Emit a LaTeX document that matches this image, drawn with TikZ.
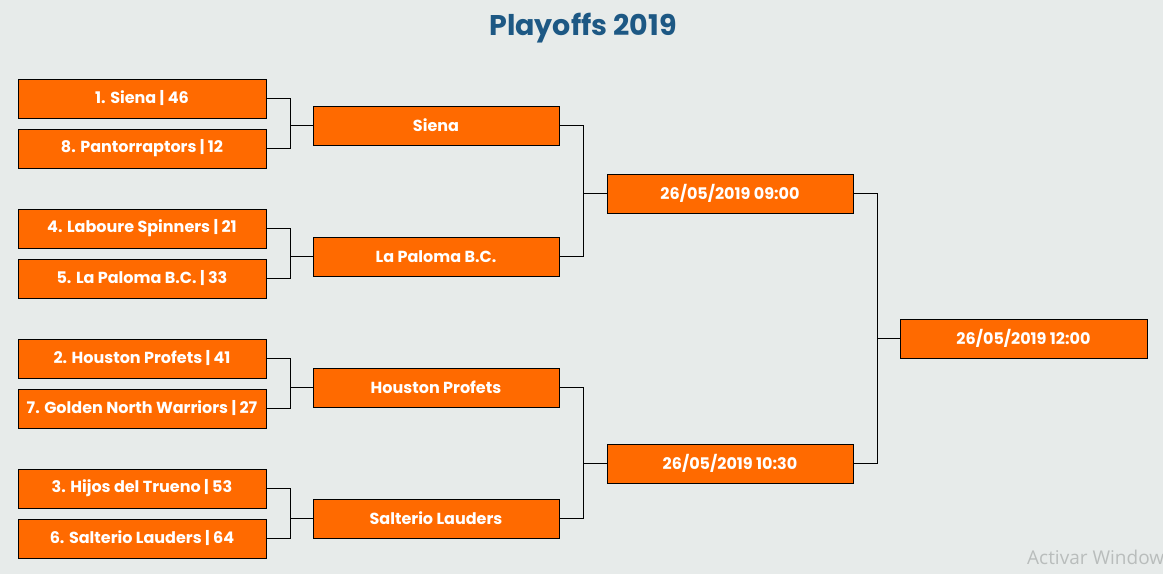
\documentclass[tikz,border=0pt]{standalone}
\usepackage{fontspec}
\setmainfont{Poppins}
\newfontfamily\wmfont{Open Sans}
\definecolor{bg}{HTML}{E7EBEA}
\definecolor{boxor}{HTML}{FF6A00}
\definecolor{titleblue}{HTML}{1D5884}
\definecolor{wmgray}{HTML}{B9BDBC}
\begin{document}
\begin{tikzpicture}[x=1pt,y=-1pt,
  team/.style={draw=black,line width=0.9pt,fill=boxor,minimum width=248pt,minimum height=39pt,inner sep=0pt,
    text=white,font=\fontsize{16}{19}\selectfont\bfseries},
  link/.style={draw=black,line width=0.9pt}]
\fill[bg] (0,0) rectangle (1163,574);
\useasboundingbox (0,0) rectangle (1163,574);
\clip (0,0) rectangle (1163,574);
\node[text=titleblue,font=\fontsize{28.5}{33}\selectfont\bfseries] (title) at (583,28) {Playoffs 2019};
% column 1
\node[team] (a1) at (142,98.5) {1. Siena | 46};
\node[team] (a2) at (142,148.5) {8. Pantorraptors | 12};
\node[team] (a3) at (142,228.5) {4. Laboure Spinners | 21};
\node[team] (a4) at (142,278.5) {5. La Paloma B.C. | 33};
\node[team] (a5) at (142,358.5) {2. Houston Profets | 41};
\node[team] (a6) at (142,408.5) {7. Golden North Warriors | 27};
\node[team] (a7) at (142,488.5) {3. Hijos del Trueno | 53};
\node[team] (a8) at (142,538.5) {6. Salterio Lauders | 64};
% column 2
\node[team,minimum width=246pt] (b1) at (436,125.5) {Siena};
\node[team,minimum width=246pt] (b2) at (436,256.5) {La Paloma B.C.};
\node[team,minimum width=246pt] (b3) at (436,387.5) {Houston Profets};
\node[team,minimum width=246pt] (b4) at (436,518.5) {Salterio Lauders};
% column 3
\node[team,minimum width=246pt] (c1) at (730,193.5) {26/05/2019 09:00};
\node[team,minimum width=246pt] (c2) at (730,463.5) {26/05/2019 10:30};
% column 4
\node[team,minimum width=247pt] (d1) at (1023.5,338.5) {26/05/2019 12:00};
% connectors
\draw[link] (a1.east) -- ++(24,0) |- (a2.east);
\draw[link] (b1.west) -- ++(-23,0);
\draw[link] (a3.east) -- ++(24,0) |- (a4.east);
\draw[link] (b2.west) -- ++(-23,0);
\draw[link] (a5.east) -- ++(24,0) |- (a6.east);
\draw[link] (b3.west) -- ++(-23,0);
\draw[link] (a7.east) -- ++(24,0) |- (a8.east);
\draw[link] (b4.west) -- ++(-23,0);
\draw[link] (b1.east) -- ++(24,0) |- (b2.east);
\draw[link] (c1.west) -- ++(-24,0);
\draw[link] (b3.east) -- ++(24,0) |- (b4.east);
\draw[link] (c2.west) -- ++(-24,0);
\draw[link] (c1.east) -- ++(24,0) |- (c2.east);
\draw[link] (d1.west) -- ++(-23,0);
% watermark (cut off at the right edge, as in the reference)
\node[anchor=base west,inner sep=0pt,text=wmgray,font=\wmfont\fontsize{19}{22}\selectfont] (wm) at (1027,564) {Activar Windows};
\end{tikzpicture}
\end{document}
